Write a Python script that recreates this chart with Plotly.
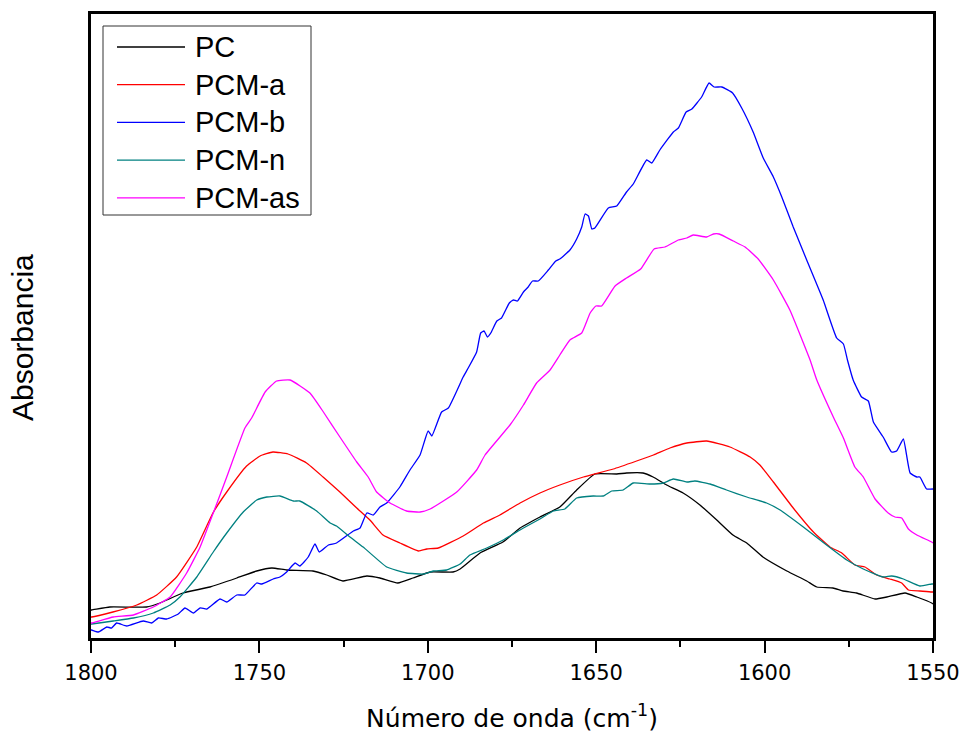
import plotly.graph_objects as go

# FTIR spectra, carbonyl / amide I region (wavenumber in cm-1, absorbance in a.u.)
series_names = ["PC", "PCM-a", "PCM-b", "PCM-n", "PCM-as"]
series_colors = ["#000000", "#FF0000", "#0000FF", "#008080", "#FF00FF"]

pc_wn = [1800.0, 1799.8, 1794.4, 1783.5, 1779.5, 1772.7, 1764.7, 1756.7, 1750.8, 1746.3, 1741.9,
         1734.1, 1730.0, 1725.2, 1718.1, 1714.2, 1708.9, 1704.4, 1699.3, 1692.5, 1690.4, 1684.5,
         1677.7, 1672.6, 1666.7, 1660.8, 1655.8, 1650.4, 1643.9, 1641.0, 1636.1, 1633.1, 1629.1,
         1624.2, 1619.2, 1614.2, 1609.4, 1605.3, 1600.5, 1593.4, 1587.5, 1584.5, 1579.7, 1576.7,
         1572.7, 1567.2, 1563.7, 1558.3, 1554.8, 1550.4, 1550.0]
pc_abs = [0.028, 0.028, 0.031, 0.031, 0.035, 0.045, 0.051, 0.060, 0.067, 0.070, 0.068,
          0.067, 0.063, 0.057, 0.062, 0.060, 0.055, 0.060, 0.066, 0.066, 0.069, 0.085,
          0.096, 0.110, 0.121, 0.131, 0.148, 0.164, 0.164, 0.165, 0.165, 0.161, 0.153,
          0.145, 0.133, 0.118, 0.103, 0.095, 0.081, 0.067, 0.057, 0.051, 0.050, 0.047,
          0.045, 0.039, 0.041, 0.045, 0.041, 0.035, 0.034]

pcm_a_wn = [1800.0, 1799.8, 1793.5, 1786.4, 1780.5, 1774.6, 1768.6, 1763.8, 1759.7, 1753.8, 1749.8,
            1746.0, 1741.5, 1736.0, 1731.1, 1726.1, 1721.1, 1717.2, 1713.3, 1708.3, 1702.8, 1700.3,
            1696.9, 1689.5, 1683.5, 1678.6, 1672.6, 1666.7, 1660.8, 1653.8, 1644.9, 1638.0, 1633.0,
            1628.1, 1623.1, 1617.2, 1610.3, 1604.3, 1601.4, 1597.4, 1591.5, 1585.5, 1580.6, 1577.1,
            1573.2, 1570.2, 1566.7, 1562.8, 1559.3, 1557.3, 1553.9, 1550.4, 1550.0]
pcm_a_abs = [0.021, 0.021, 0.026, 0.033, 0.043, 0.061, 0.091, 0.125, 0.146, 0.172, 0.182,
             0.186, 0.184, 0.175, 0.161, 0.146, 0.130, 0.118, 0.103, 0.095, 0.087, 0.089,
             0.090, 0.102, 0.115, 0.123, 0.135, 0.145, 0.153, 0.161, 0.169, 0.177, 0.183,
             0.190, 0.195, 0.197, 0.191, 0.181, 0.173, 0.156, 0.130, 0.106, 0.091, 0.085,
             0.073, 0.071, 0.063, 0.059, 0.055, 0.048, 0.047, 0.046, 0.046]

pcm_b_wn = [1800.0, 1799.8, 1797.8, 1795.3, 1793.9, 1792.4, 1789.4, 1784.5, 1782.0, 1780.0, 1777.5,
            1774.1, 1772.1, 1769.6, 1767.6, 1765.6, 1761.7, 1759.7, 1756.7, 1754.3, 1750.8, 1749.3,
            1745.9, 1743.9, 1741.9, 1739.4, 1738.0, 1735.5, 1733.5, 1732.2, 1729.5, 1727.1, 1722.1,
            1720.1, 1718.1, 1716.2, 1714.2, 1712.2, 1708.3, 1705.3, 1702.3, 1699.9, 1698.8, 1695.9,
            1693.9, 1689.5, 1688.0, 1685.5, 1684.3, 1683.3, 1682.3, 1681.3, 1679.5, 1678.1, 1675.8,
            1674.6, 1673.4, 1671.6, 1670.2, 1668.9, 1667.2, 1664.2, 1662.0, 1660.8, 1657.8, 1655.8,
            1654.3, 1653.3, 1652.3, 1651.3, 1650.4, 1646.4, 1643.9, 1641.0, 1639.0, 1635.0, 1633.5,
            1631.1, 1627.1, 1625.6, 1623.3, 1621.6, 1618.7, 1616.5, 1615.0, 1612.7, 1609.5, 1606.8,
            1603.4, 1600.4, 1597.4, 1594.9, 1591.5, 1587.5, 1582.6, 1578.6, 1576.6, 1575.4, 1573.7,
            1571.2, 1569.2, 1567.7, 1564.8, 1562.3, 1560.8, 1558.8, 1556.8, 1554.8, 1553.9, 1551.9,
            1550.0]
pcm_b_abs = [0.008, 0.008, 0.006, 0.011, 0.010, 0.015, 0.012, 0.017, 0.015, 0.020, 0.019,
             0.024, 0.030, 0.025, 0.030, 0.029, 0.039, 0.036, 0.043, 0.043, 0.055, 0.054,
             0.059, 0.061, 0.066, 0.075, 0.072, 0.081, 0.094, 0.086, 0.093, 0.095, 0.107,
             0.110, 0.125, 0.123, 0.131, 0.135, 0.151, 0.168, 0.183, 0.207, 0.202, 0.226,
             0.230, 0.261, 0.270, 0.286, 0.305, 0.307, 0.301, 0.305, 0.317, 0.320, 0.335,
             0.338, 0.337, 0.346, 0.351, 0.357, 0.357, 0.368, 0.377, 0.379, 0.388, 0.399,
             0.411, 0.424, 0.422, 0.409, 0.410, 0.430, 0.432, 0.446, 0.454, 0.478, 0.475,
             0.488, 0.506, 0.510, 0.526, 0.529, 0.541, 0.555, 0.551, 0.551, 0.545, 0.530,
             0.506, 0.480, 0.461, 0.441, 0.411, 0.378, 0.338, 0.300, 0.294, 0.278, 0.258,
             0.241, 0.237, 0.216, 0.201, 0.186, 0.187, 0.199, 0.165, 0.161, 0.161, 0.149,
             0.149]

pcm_n_wn = [1800.0, 1799.8, 1793.4, 1787.4, 1781.5, 1776.5, 1773.6, 1768.6, 1763.7, 1759.7, 1754.8,
            1750.8, 1747.8, 1743.9, 1739.9, 1738.0, 1733.0, 1729.0, 1727.1, 1723.1, 1719.2, 1712.2,
            1706.3, 1701.3, 1698.4, 1694.4, 1690.4, 1687.5, 1682.5, 1677.6, 1671.6, 1666.7, 1662.7,
            1659.3, 1655.8, 1650.9, 1647.9, 1645.4, 1642.0, 1639.0, 1634.0, 1630.1, 1627.1, 1623.1,
            1620.7, 1616.2, 1611.3, 1605.3, 1599.4, 1595.4, 1588.5, 1581.6, 1575.6, 1570.7, 1564.8,
            1562.3, 1558.8, 1553.9, 1550.4, 1550.0]
pcm_n_abs = [0.014, 0.014, 0.017, 0.020, 0.025, 0.033, 0.041, 0.061, 0.086, 0.105, 0.126,
             0.138, 0.141, 0.142, 0.137, 0.137, 0.127, 0.115, 0.112, 0.101, 0.091, 0.071,
             0.065, 0.064, 0.067, 0.068, 0.074, 0.083, 0.090, 0.098, 0.110, 0.119, 0.127,
             0.129, 0.140, 0.142, 0.142, 0.147, 0.148, 0.155, 0.154, 0.155, 0.159, 0.156,
             0.157, 0.154, 0.148, 0.141, 0.135, 0.128, 0.111, 0.093, 0.078, 0.069, 0.061,
             0.062, 0.059, 0.052, 0.054, 0.054]

pcm_as_wn = [1800.0, 1799.8, 1793.4, 1787.4, 1781.5, 1776.5, 1771.6, 1767.6, 1763.7, 1759.7, 1754.3,
             1752.3, 1748.3, 1744.9, 1740.9, 1735.0, 1731.0, 1726.1, 1721.1, 1717.7, 1715.2, 1711.2,
             1706.3, 1702.3, 1699.3, 1691.4, 1685.5, 1683.0, 1675.6, 1671.6, 1667.7, 1663.7, 1660.8,
             1657.8, 1654.3, 1651.8, 1650.1, 1648.4, 1644.4, 1641.0, 1636.8, 1632.8, 1629.6, 1625.6,
             1623.1, 1621.2, 1617.2, 1615.2, 1613.5, 1609.3, 1605.8, 1601.9, 1597.4, 1592.5, 1586.5,
             1584.5, 1579.6, 1576.6, 1573.2, 1570.7, 1567.2, 1563.3, 1561.3, 1559.3, 1557.3, 1554.8,
             1550.4, 1550.0]
pcm_as_abs = [0.015, 0.015, 0.021, 0.023, 0.031, 0.041, 0.065, 0.091, 0.125, 0.161, 0.210,
              0.220, 0.246, 0.257, 0.258, 0.245, 0.226, 0.201, 0.176, 0.161, 0.146, 0.135,
              0.127, 0.126, 0.129, 0.146, 0.168, 0.183, 0.213, 0.233, 0.255, 0.268, 0.283,
              0.298, 0.305, 0.325, 0.332, 0.332, 0.352, 0.360, 0.369, 0.389, 0.391, 0.398,
              0.400, 0.403, 0.401, 0.404, 0.404, 0.397, 0.391, 0.379, 0.358, 0.328, 0.278,
              0.258, 0.221, 0.200, 0.171, 0.161, 0.139, 0.125, 0.121, 0.120, 0.109, 0.103,
              0.096, 0.095]

x_ticks = [1800, 1750, 1700, 1650, 1600, 1550]
x_tick_labels = ["1800", "1750", "1700", "1650", "1600", "1550"]

spectra = [
    (pc_wn, pc_abs),
    (pcm_a_wn, pcm_a_abs),
    (pcm_b_wn, pcm_b_abs),
    (pcm_n_wn, pcm_n_abs),
    (pcm_as_wn, pcm_as_abs),
]

W, H = 963, 740
M_L, M_R, M_T, M_B = 91, 30, 14, 102
PW, PH = W - M_L - M_R, H - M_T - M_B


def px_to_paper(px, py):
    """Convert page pixel position to paper coordinates of the plot area."""
    return (px - M_L) / PW, (H - M_B - py) / PH


fig = go.Figure()
for name, color, (wn, ab) in zip(series_names, series_colors, spectra):
    fig.add_trace(go.Scatter(
        x=wn, y=ab, mode="lines", name=name,
        line=dict(color=color, width=1.3, shape="spline", smoothing=0.4),
        showlegend=False,
    ))

# Framed legend box with long line samples
shapes = []
annotations = []
bx0, by0 = px_to_paper(103, 215)
bx1, by1 = px_to_paper(311, 26)
shapes.append(dict(type="rect", xref="paper", yref="paper", x0=bx0, y0=by0, x1=bx1, y1=by1,
                   line=dict(color="#333333", width=1), fillcolor="white", layer="above"))
row_top, row_step = 47, 37.7
for i, (name, color) in enumerate(zip(series_names, series_colors)):
    ry = row_top + i * row_step
    lx0, ly = px_to_paper(117, ry)
    lx1, _ = px_to_paper(185, ry)
    tx, _ = px_to_paper(193, ry)
    shapes.append(dict(type="line", xref="paper", yref="paper", x0=lx0, x1=lx1, y0=ly, y1=ly,
                       line=dict(color=color, width=1.3), layer="above"))
    annotations.append(dict(text=name, xref="paper", yref="paper", x=tx, y=ly,
                            xanchor="left", yanchor="middle", showarrow=False,
                            font=dict(family="Liberation Sans, Arial, sans-serif", size=29, color="black")))

# Vertical axis title
ax, ay = px_to_paper(23, 338)
annotations.append(dict(text="Absorbancia", xref="paper", yref="paper", x=ax, y=ay,
                        xanchor="center", yanchor="middle", textangle=-90, showarrow=False,
                        font=dict(family="Liberation Sans, Arial, sans-serif", size=30, color="black")))

fig.update_layout(
    width=W, height=H,
    margin=dict(l=M_L, r=M_R, t=M_T, b=M_B, pad=0, autoexpand=False),
    paper_bgcolor="white", plot_bgcolor="white",
    shapes=shapes, annotations=annotations,
    xaxis=dict(
        range=[1800, 1550], autorange=False, automargin=False,
        tickvals=x_ticks, ticktext=x_tick_labels,
        ticks="outside", ticklen=12, tickwidth=2, tickcolor="black",
        minor=dict(dtick=25, tick0=1550, ticks="outside", ticklen=6, tickwidth=2, tickcolor="black"),
        showline=True, linecolor="black", linewidth=2.5, mirror=True,
        showgrid=False, zeroline=False,
        ticklabelstandoff=2,
        tickfont=dict(family="DejaVu Sans, Verdana, sans-serif", size=21, color="black"),
        title=dict(text="Número de onda (cm<sup>-1</sup>)",
                   font=dict(family="DejaVu Sans, Verdana, sans-serif", size=25, color="black"),
                   standoff=26),
    ),
    yaxis=dict(
        range=[0, 0.624], autorange=False, automargin=False,
        showticklabels=False, ticks="",
        showline=True, linecolor="black", linewidth=2.5, mirror=True,
        showgrid=False, zeroline=False,
    ),
)

fig.write_html("out.html")
